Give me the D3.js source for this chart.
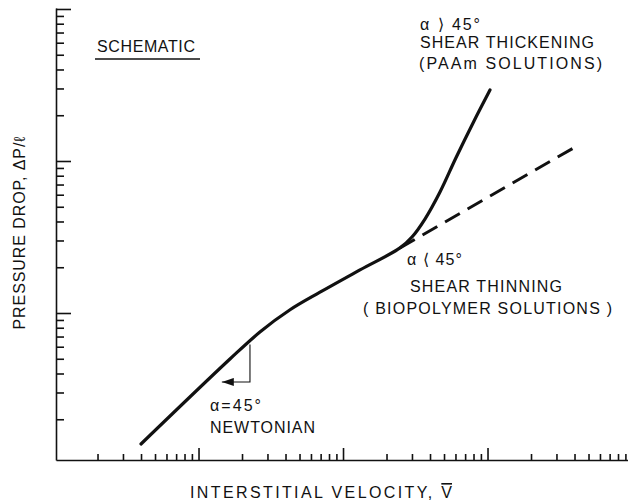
<!DOCTYPE html>
<html>
<head>
<meta charset="utf-8">
<script src="https://cdn.jsdelivr.net/npm/d3@7"></script>
<style>
  html, body { margin: 0; padding: 0; background: #fff; }
  svg { display: block; }
  text { font-family: "Liberation Sans", Arial, sans-serif; fill: #111; }
</style>
</head>
<body>
<svg id="chart" width="628" height="504"></svg>
<script>
// Axis extents (log scales, schematic units)
const xExtent = [1.032, 9380];
const yExtent = [1.079, 1015];
const decades = [1, 10, 100, 1000];
const xMajorTicks = [10, 100, 1000];
const yMajorTicks = [10, 100, 1000];
const minorMultipliers = [2, 3, 4, 5, 6, 7, 8, 9];

// Newtonian region flowing into the common trunk, then the shear-thickening branch
const mainV  = [4, 16.5, 26.6, 43, 69.3, 131, 248, 300, 369, 469, 605, 794, 1040];
const mainDP = [1.375, 4.98, 7.5, 10.5, 13.7, 19.2, 26.8, 31.6, 41.5, 62.5, 105, 178, 293];

// Shear-thinning continuation (dashed)
const thinV  = [248, 4370];
const thinDP = [26.8, 129];

// 45° slope indicator on the Newtonian portion: top, corner, arrow tip
const markV  = [22.7, 22.7, 14.5];
const markDP = [6.2, 3.52, 3.52];

const svg = d3.select("#chart");
const x = d3.scaleLog().domain(xExtent).range([56, 628]);
const y = d3.scaleLog().domain(yExtent).range([460, 8]);

const inRange = (v, ext) => v >= ext[0] && v <= ext[1];
const xMinor = decades.flatMap(d => minorMultipliers.map(m => d * m)).filter(v => inRange(v, xExtent));
const yMinor = decades.flatMap(d => minorMultipliers.map(m => d * m)).filter(v => inRange(v, yExtent));

// Axes with inward-pointing ticks
function styleAxis(g, keepDomain) {
  g.selectAll("line").attr("stroke", "#111").attr("stroke-width", 1.6);
  g.selectAll("text").remove();
  if (keepDomain) g.select(".domain").attr("stroke", "#111").attr("stroke-width", 1.6);
  else g.select(".domain").remove();
}

svg.append("g").attr("transform", `translate(0,${y(yExtent[0])})`)
  .call(d3.axisBottom(x).tickValues(xMinor).tickSizeInner(-6).tickSizeOuter(0).tickFormat(""))
  .call(g => styleAxis(g, true));
svg.append("g").attr("transform", `translate(0,${y(yExtent[0])})`)
  .call(d3.axisBottom(x).tickValues(xMajorTicks).tickSizeInner(-12).tickSizeOuter(0).tickFormat(""))
  .call(g => styleAxis(g, false));

svg.append("g").attr("transform", `translate(${x(xExtent[0])},0)`)
  .call(d3.axisLeft(y).tickValues(yMinor).tickSizeInner(-8).tickSizeOuter(0).tickFormat(""))
  .call(g => styleAxis(g, true));
svg.append("g").attr("transform", `translate(${x(xExtent[0])},0)`)
  .call(d3.axisLeft(y).tickValues(yMajorTicks).tickSizeInner(-15).tickSizeOuter(0).tickFormat(""))
  .call(g => styleAxis(g, false));

// Curves
const line = d3.line()
  .x(d => x(d[0]))
  .y(d => y(d[1]))
  .curve(d3.curveCatmullRom.alpha(0.5));

svg.append("path")
  .datum(d3.zip(thinV, thinDP))
  .attr("d", line)
  .attr("fill", "none")
  .attr("stroke", "#111")
  .attr("stroke-width", 3)
  .attr("stroke-dasharray", "17,9");

svg.append("path")
  .datum(d3.zip(mainV, mainDP))
  .attr("d", line)
  .attr("fill", "none")
  .attr("stroke", "#111")
  .attr("stroke-width", 3.2)
  .attr("stroke-linecap", "round");

// Slope indicator with arrowhead
svg.append("defs").append("marker")
  .attr("id", "arrow")
  .attr("viewBox", "0 0 12 8")
  .attr("refX", 12).attr("refY", 4)
  .attr("markerWidth", 12).attr("markerHeight", 8)
  .attr("markerUnits", "userSpaceOnUse")
  .attr("orient", "auto")
  .append("path").attr("d", "M0,0 L12,4 L0,8 Z").attr("fill", "#111");

svg.append("path")
  .datum(d3.zip(markV, markDP))
  .attr("d", d3.line().x(d => x(d[0])).y(d => y(d[1])))
  .attr("fill", "none")
  .attr("stroke", "#111")
  .attr("stroke-width", 1.1)
  .attr("marker-end", "url(#arrow)");

// Labels
function label(str, px, py, len, opts = {}) {
  const t = svg.append("text")
    .attr("x", px).attr("y", py)
    .attr("font-size", opts.size || 16)
    .text(str);
  if (len) t.attr("textLength", len).attr("lengthAdjust", "spacing");
  if (opts.anchor) t.attr("text-anchor", opts.anchor);
  if (opts.transform) t.attr("transform", opts.transform);
  return t;
}

label("SCHEMATIC", 97, 52, 98);
svg.append("line").attr("x1", 95).attr("x2", 200).attr("y1", 59).attr("y2", 59)
  .attr("stroke", "#111").attr("stroke-width", 1.5);

label("α ⟩ 45°", 420, 30, 60);
label("SHEAR THICKENING", 420, 48, 174);
label("(PAAm SOLUTIONS)", 419, 69, 183);

label("α ⟨ 45°", 407, 265, 55);
label("SHEAR THINNING", 410, 292, 152);
label("( BIOPOLYMER SOLUTIONS )", 363, 314, 249);

label("α=45°", 210, 411, 51);
label("NEWTONIAN", 210, 433, 105);

// x-axis title with overlined V
const xt = svg.append("text")
  .attr("x", 190).attr("y", 498)
  .attr("font-size", 16)
  .attr("textLength", 262)
  .attr("lengthAdjust", "spacing");
xt.append("tspan").text("INTERSTITIAL VELOCITY, ");
xt.append("tspan").style("text-decoration", "overline").text("V");

label("PRESSURE DROP, ΔP/ℓ", 0, 0, 193, { anchor: "middle", transform: "translate(25,233) rotate(-90)" });
</script>
</body>
</html>
